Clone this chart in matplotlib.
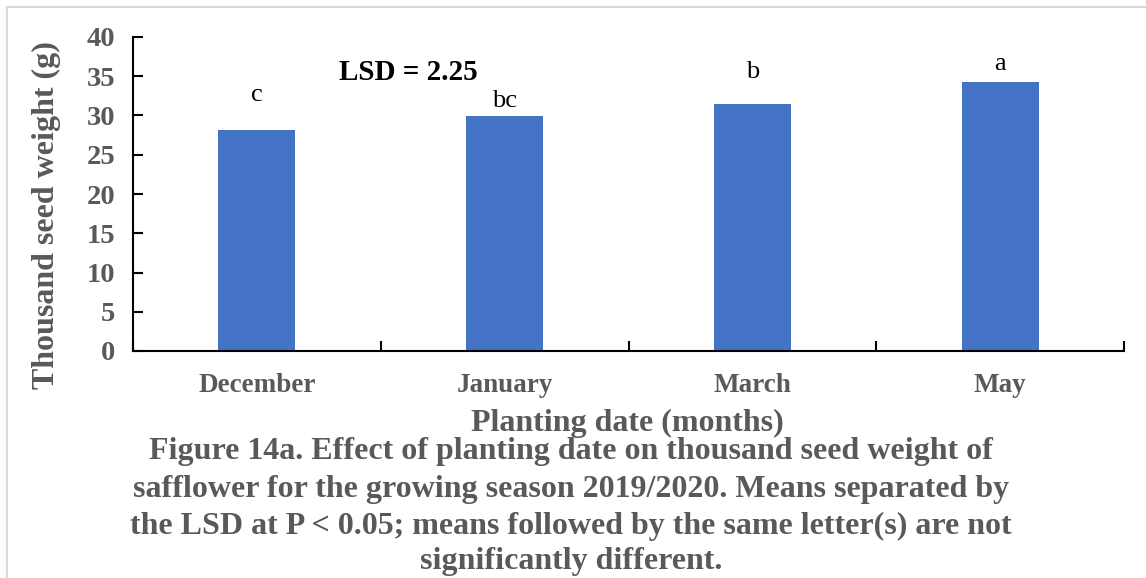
import matplotlib.pyplot as plt
from matplotlib.lines import Line2D

# Data
months = ['December', 'January', 'March', 'May']
seed_weight = [28.15, 29.9, 31.5, 34.3]
letters = ['c', 'bc', 'b', 'a']
letter_height = [32.6, 31.8, 35.5, 36.6]
y_ticks = [0, 5, 10, 15, 20, 25, 30, 35, 40]

gray = '#595959'
serif = ['Liberation Serif', 'DejaVu Serif']

fig = plt.figure(figsize=(11.46, 5.78), dpi=100)
ax = fig.add_axes([133 / 1146, 1 - 351 / 578, (1124 - 133) / 1146, (351 - 37) / 578])

x = list(range(len(months)))
ax.bar(x, seed_weight, width=0.31, color='#4472C4', zorder=2)

for xi, lab, h in zip(x, letters, letter_height):
    ax.text(xi, h, lab, ha='center', va='center', fontsize=19,
            family=serif, color='black')

ax.text(0.61, 35.5, 'LSD = 2.25', ha='center', va='center', fontsize=21,
        family=serif, fontweight='bold', color='black')

ax.set_xlim(-0.5, len(months) - 0.5)
ax.set_ylim(0, 40)
ax.set_yticks(y_ticks)
ax.set_yticklabels([str(v) for v in y_ticks], family=serif, fontweight='bold',
                   fontsize=20.5, color=gray)
ax.set_xticks([i - 0.5 for i in range(len(months) + 1)])
ax.set_xticklabels([])
ax.set_xticks(x, minor=True)
ax.set_xticklabels(months, minor=True, family=serif, fontweight='bold',
                   fontsize=19.5, color=gray)
ax.tick_params(axis='x', which='major', direction='in', length=7, width=1.5)
ax.tick_params(axis='x', which='minor', length=0, pad=16)
ax.tick_params(axis='y', direction='in', length=7, width=1.5, pad=13)

for side in ['top', 'right']:
    ax.spines[side].set_visible(False)
for side in ['left', 'bottom']:
    ax.spines[side].set_linewidth(1.5)

ax.set_ylabel('Thousand seed weight (g)', family=serif, fontweight='bold',
              fontsize=23, color=gray, va='center')
ax.yaxis.set_label_coords(-0.087, 0.433)

fig.text(627 / 1146, 1 - 423 / 578, 'Planting date (months)', ha='center',
         va='center', family=serif, fontweight='bold', fontsize=23, color=gray)

caption = ['Figure 14a. Effect of planting date on thousand seed weight of',
           'safflower for the growing season 2019/2020. Means separated by',
           'the LSD at P < 0.05; means followed by the same letter(s) are not',
           'significantly different.']
caption_y = [452, 490, 526, 561]
for line, yy in zip(caption, caption_y):
    fig.text(571 / 1146, 1 - yy / 578, line, ha='center', va='center',
             family=serif, fontweight='bold', fontsize=23, color=gray)

# light page border
fig.add_artist(Line2D([7 / 1146, 1], [1 - 7 / 578] * 2, color='#d9d9d9', lw=1.5,
                      transform=fig.transFigure))
fig.add_artist(Line2D([7 / 1146] * 2, [0, 1 - 7 / 578], color='#d9d9d9', lw=1.5,
                      transform=fig.transFigure))

fig.savefig('out.png', dpi=100)
